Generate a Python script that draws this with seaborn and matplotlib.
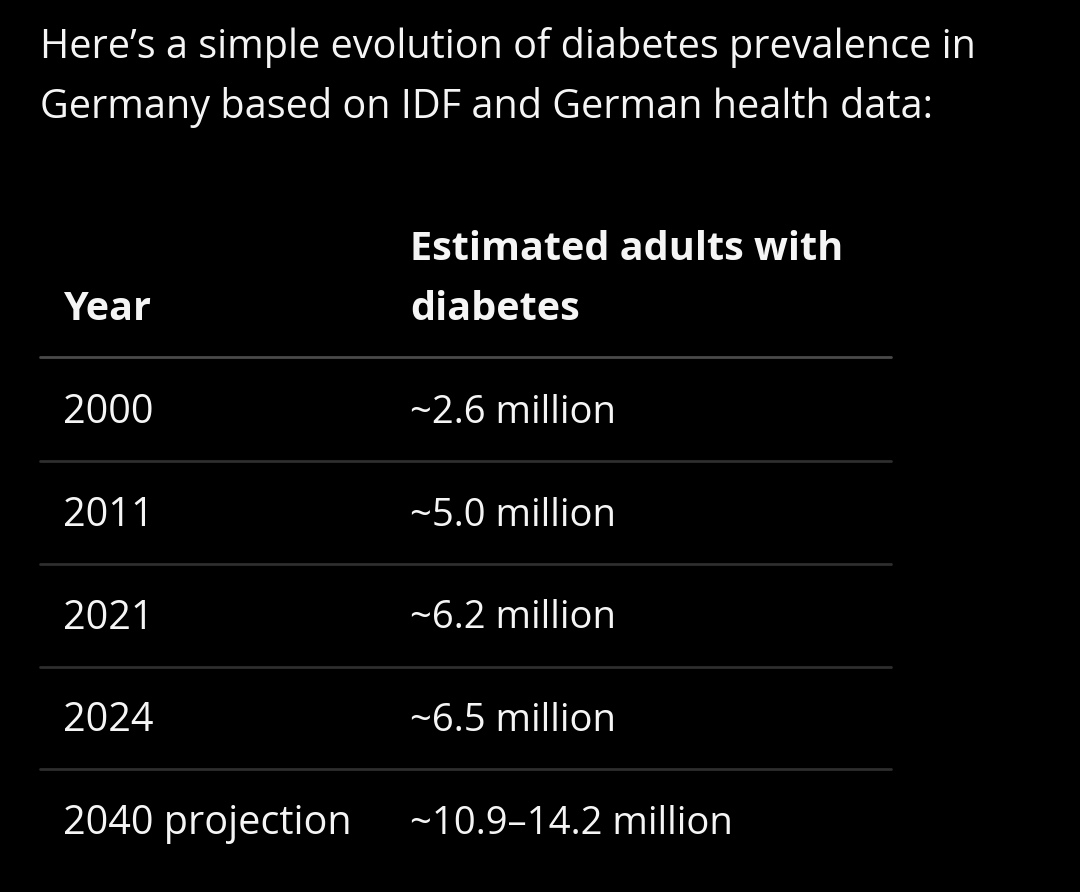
import matplotlib
matplotlib.use("Agg")
import matplotlib.pyplot as plt
import seaborn as sns

intro_lines = ["Here\u2019s a simple evolution of diabetes prevalence in",
               "Germany based on IDF and German health data:"]
col_headers = ["Year", "Estimated adults with\ndiabetes"]
years = ["2000", "2011", "2021", "2024", "2040 projection"]
adults = ["~2.6 million", "~5.0 million", "~6.2 million", "~6.5 million",
          "~10.9\u201314.2 million"]

sns.set_theme(style="dark")
plt.rcParams["font.family"] = ["Open Sans", "DejaVu Sans"]

W, H = 1080, 892
fig = plt.figure(figsize=(W / 100, H / 100), dpi=100, facecolor="black")
ax = fig.add_axes([0, 0, 1, 1])
ax.set_facecolor("black")
ax.set_xlim(0, W)
ax.set_ylim(H, 0)
ax.axis("off")

white = "#f5f5f5"

# intro text
for i, line in enumerate(intro_lines):
    ax.text(40, 47 + i * 60, line, color=white, fontsize=28.5, va="center", ha="left")

# table header, bottom-aligned lines
col_x = [63, 410]
left, right = 40, 891
header_gap = 60
for j, head in enumerate(col_headers):
    parts = head.split("\n")
    for k, part in enumerate(parts):
        yc = 309 - (len(parts) - 1 - k) * header_gap
        ax.text(col_x[j], yc, part, color=white, fontsize=28.5, fontweight="bold",
                va="center", ha="left")
ax.plot([left, right], [357, 357], color="#4a4a4a", lw=2)

row_h = 102.7
for i, (yr, val) in enumerate(zip(years, adults)):
    yc = 410 + i * row_h
    ax.text(col_x[0], yc + 3, yr, color=white, fontsize=28.5, va="center", ha="left")
    ax.text(col_x[1], yc + 3, val, color=white, fontsize=27.5, va="center", ha="left")
    if i < len(years) - 1:
        ax.plot([left, right], [yc + row_h / 2, yc + row_h / 2], color="#2e2e2e", lw=2)

fig.savefig("out.png", dpi=100, facecolor="black")
